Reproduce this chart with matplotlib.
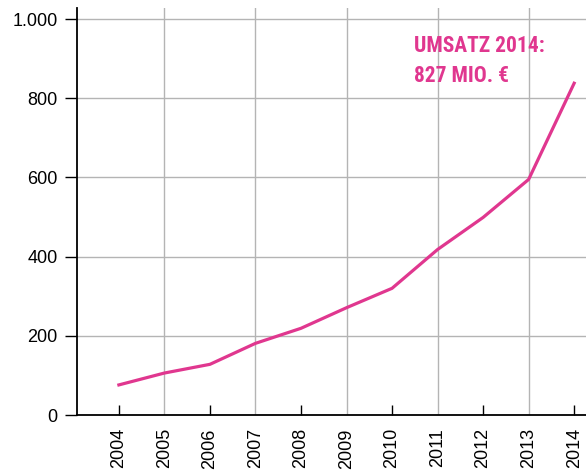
import matplotlib
matplotlib.use("Agg")
import matplotlib.pyplot as plt
from matplotlib.ticker import FixedLocator

years = [2004, 2005, 2006, 2007, 2008, 2009, 2010, 2011, 2012, 2013, 2014]
umsatz = [76, 106, 128, 181, 219, 271, 320, 418, 499, 595, 838]
y_ticks = [0, 200, 400, 600, 800, 1000]
y_tick_labels = ["0", "200", "400", "600", "800", "1.000"]
annotation = "UMSATZ 2014:\n827 MIO. €"

plt.rcParams['font.family'] = ['Liberation Sans', 'DejaVu Sans']

fig = plt.figure(figsize=(5.86, 4.70), dpi=100)
ax = fig.add_axes([77/586, 55/470, 1 - 77/586, (415 - 8)/470])

pink = '#e0378f'
ax.plot(years, umsatz, color=pink, lw=2.3, solid_joinstyle='miter', zorder=3, clip_on=False)

ax.set_xlim(2003.08, 2014.26)
ax.set_ylim(0, 1028)

# y axis
ax.set_yticks(y_ticks)
ax.set_yticklabels(y_tick_labels)
ax.tick_params(axis='y', direction='out', length=8.6, width=1.0, pad=5.5,
               labelsize=13, color='black')
ax.yaxis.grid(True, color='#b4b4b4', lw=1.0)

# x axis: labels every year, inward ticks on even years, grid on odd years
ax.set_xticks(years)
ax.set_xticklabels([str(y) for y in years], rotation=90, va='top')
ax.tick_params(axis='x', which='major', direction='in', length=7.2, width=1.0,
               pad=9.5, labelsize=13, color='black')
for tick, yr in zip(ax.xaxis.get_major_ticks(), years):
    if yr % 2 == 1:
        tick.tick1line.set_visible(False)
ax.xaxis.remove_overlapping_locs = False
ax.xaxis.set_minor_locator(FixedLocator([y for y in years if y % 2 == 1]))
ax.tick_params(axis='x', which='minor', length=0)
ax.xaxis.grid(True, which='minor', color='#b4b4b4', lw=1.0)
ax.xaxis.grid(False, which='major')
ax.set_axisbelow(True)

for s in ['top', 'right']:
    ax.spines[s].set_visible(False)
for s in ['left', 'bottom']:
    ax.spines[s].set_color('black')
    ax.spines[s].set_linewidth(1.3)

ax.text(2010.49, 960, annotation, color=pink, fontsize=15.5, fontweight='bold',
        family=['Liberation Sans Narrow', 'Roboto Condensed', 'DejaVu Sans'],
        fontstretch='condensed', va='top', ha='left', linespacing=1.5)

fig.savefig('out.png', dpi=100)
